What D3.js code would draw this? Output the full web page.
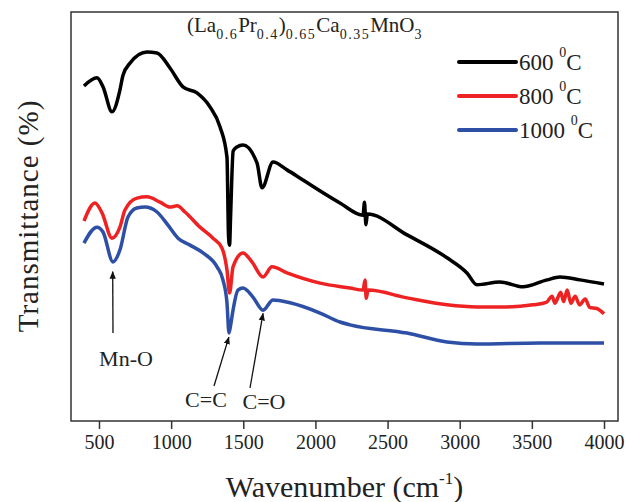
<!DOCTYPE html>
<html>
<head>
<meta charset="utf-8">
<script src="https://cdn.jsdelivr.net/npm/d3@7"></script>
<style>
  body { margin: 0; background: #fff; }
  svg text { font-family: "Liberation Serif", Tinos, "Times New Roman", "DejaVu Serif", serif; fill: #222; }
</style>
</head>
<body>
<svg id="chart" width="627" height="502"></svg>
<script>
// FTIR spectra (transmittance in arbitrary %)
var wn600 = [396, 486, 528, 590, 645, 666, 715, 833, 902, 992, 1082, 1179, 1269, 1339, 1387, 1398, 1405, 1412, 1430, 1456, 1498, 1595, 1630, 1706, 1803, 1914, 2170, 2330, 2340, 2350, 2360, 2635, 2912, 3050, 3120, 3279, 3438, 3605, 3695, 3834, 4000];
var t600 = [81.9, 83.9, 81.7, 75.6, 80.9, 84.5, 87.5, 90.2, 90.0, 86.3, 81.7, 80.2, 76.8, 71.9, 64.5, 45.0, 43.0, 50.0, 66.0, 67.0, 67.5, 63.1, 57.0, 63.3, 61.4, 58.9, 53.3, 50.3, 53.5, 48.0, 50.6, 45.5, 39.9, 36.2, 33.3, 34.0, 32.8, 34.5, 35.2, 34.5, 33.5];

var wn800 = [396, 472, 521, 590, 645, 680, 763, 833, 923, 992, 1041, 1096, 1200, 1290, 1352, 1387, 1405, 1429, 1498, 1560, 1637, 1699, 1803, 2032, 2240, 2330, 2344, 2352, 2365, 2635, 2912, 3120, 3328, 3508, 3600, 3640, 3660, 3700, 3720, 3745, 3770, 3800, 3830, 3870, 3900, 3950, 4000];
var t800 = [48.9, 53.3, 50.9, 44.7, 47.4, 51.6, 54.5, 54.8, 53.5, 52.3, 52.6, 51.1, 47.4, 44.7, 42.3, 36.9, 31.3, 37.7, 41.1, 38.9, 35.2, 37.7, 36.2, 33.7, 32.5, 32.0, 34.5, 30.0, 32.0, 30.1, 28.4, 27.9, 27.9, 28.4, 29.0, 30.5, 28.8, 31.5, 29.2, 32.0, 28.8, 30.5, 28.4, 29.8, 27.8, 27.5, 26.2];

var wn1000 = [396, 486, 528, 597, 645, 701, 763, 819, 902, 978, 1048, 1131, 1221, 1318, 1359, 1387, 1401, 1415, 1429, 1463, 1498, 1567, 1637, 1706, 1824, 2032, 2170, 2240, 2635, 2912, 3120, 3557, 4000];
var t1000 = [43.5, 47.4, 46.2, 38.9, 41.8, 49.9, 52.1, 52.3, 51.1, 47.9, 44.7, 43.0, 41.1, 37.7, 34.5, 28.9, 21.5, 24.0, 27.1, 32.0, 32.5, 30.3, 27.1, 29.6, 28.9, 26.4, 24.2, 23.5, 21.5, 19.3, 18.8, 19.1, 19.1];

var seriesNames = ["600", "800", "1000"];
var seriesColors = ["#000000", "#ee2222", "#2d4fa6"];
var xTicks = [500, 1000, 1500, 2000, 2500, 3000, 3500, 4000];

var serif = "'Liberation Serif', Tinos, 'Times New Roman', 'DejaVu Serif', serif";

var margin = { top: 12, right: 9, bottom: 81, left: 71 },
    width = 627 - margin.left - margin.right,
    height = 502 - margin.top - margin.bottom;

var svg = d3.select("#chart");
var g = svg.append("g").attr("transform", "translate(" + margin.left + "," + margin.top + ")");

var x = d3.scaleLinear().domain([306, 4097]).range([0, width]);
var y = d3.scaleLinear().domain([0, 100]).range([height, 0]);

function pairs(wn, t) {
    return wn.map(function (d, i) { return { wn: d, t: t[i] }; });
}
var series = [pairs(wn600, t600), pairs(wn800, t800), pairs(wn1000, t1000)];

var line = d3.line()
    .x(function (d) { return x(d.wn); })
    .y(function (d) { return y(d.t); })
    .curve(d3.curveMonotoneX);

// spectra (drawn back to front so black sits on top like the original)
[2, 1, 0].forEach(function (i) {
    g.append("path")
        .datum(series[i])
        .attr("fill", "none")
        .attr("stroke", seriesColors[i])
        .attr("stroke-width", 3.5)
        .attr("stroke-linejoin", "round")
        .attr("d", line);
});

// frame
g.append("rect")
    .attr("width", width).attr("height", height)
    .attr("fill", "none").attr("stroke", "#333").attr("stroke-width", 1.5);

// x axis
var xAxis = g.append("g")
    .attr("transform", "translate(0," + height + ")")
    .call(d3.axisBottom(x).tickValues(xTicks).tickSize(8).tickPadding(6).tickFormat(d3.format("d")));
xAxis.attr("font-family", serif);
xAxis.select(".domain").remove();
xAxis.selectAll("line").attr("stroke", "#333").attr("stroke-width", 1.5);
xAxis.selectAll("text").attr("font-size", 20).attr("fill", "#222");

// axis titles
var xt = svg.append("text")
    .attr("x", margin.left + width / 2).attr("y", 497)
    .attr("font-family", serif)
    .attr("text-anchor", "middle").attr("font-size", 30);
xt.append("tspan").text("Wavenumber (cm");
xt.append("tspan").attr("font-size", 17).attr("dy", -13).text("-1");
xt.append("tspan").attr("dy", 13).text(")");

svg.append("text")
    .attr("transform", "translate(38,216)rotate(-90)")
    .attr("font-family", serif)
    .attr("text-anchor", "middle").attr("font-size", 29)
    .attr("letter-spacing", 1)
    .text("Transmittance (%)");

// compound title with subscripts
var title = svg.append("text").attr("x", 187).attr("y", 32)
    .attr("font-family", serif).attr("font-size", 21);
[["(La", null], ["0.6", "s"], ["Pr", null], ["0.4", "s"], [")", null], ["0.65", "s"],
 ["Ca", null], ["0.35", "s"], ["MnO", null], ["3", "s"]].forEach(function (p, i, arr) {
    var prevSub = i > 0 && arr[i - 1][1] === "s";
    var ts = title.append("tspan").text(p[0]);
    if (p[1] === "s") {
        ts.attr("font-size", 14).attr("letter-spacing", 1.5).attr("dy", prevSub ? 0 : 7);
    } else if (prevSub) {
        ts.attr("dy", -7);
    }
});

// legend
var legend = svg.append("g").attr("font-family", serif);
seriesNames.forEach(function (name, i) {
    var ly = 62 + i * 34;
    legend.append("line")
        .attr("x1", 459).attr("x2", 516).attr("y1", ly).attr("y2", ly)
        .attr("stroke", seriesColors[i]).attr("stroke-width", 4).attr("stroke-linecap", "round");
    var t = legend.append("text").attr("x", 519).attr("y", ly + 8).attr("font-size", 23);
    t.append("tspan").text(name + " ");
    t.append("tspan").attr("font-size", 14).attr("dy", -13).text("0");
    t.append("tspan").attr("dy", 13).text("C");
});

// band annotations
svg.append("defs").append("marker")
    .attr("id", "arrow").attr("viewBox", "0 0 10 10")
    .attr("refX", 9).attr("refY", 5)
    .attr("markerWidth", 6).attr("markerHeight", 6)
    .attr("orient", "auto")
    .append("path").attr("d", "M0,1 L10,5 L0,9 Z").attr("fill", "#111");

var notes = [
    { label: "Mn-O", wn: 595, t: 36.5, tx: 113, ty: 333, lx: 126, ly: 366 },
    { label: "C=C", wn: 1400, t: 20.5, tx: 214, ty: 386, lx: 206, ly: 407 },
    { label: "C=O", wn: 1637, t: 26.3, tx: 250, ty: 388, lx: 264, ly: 409 }
];
notes.forEach(function (n) {
    svg.append("line")
        .attr("x1", n.tx).attr("y1", n.ty)
        .attr("x2", margin.left + x(n.wn)).attr("y2", margin.top + y(n.t))
        .attr("stroke", "#111").attr("stroke-width", 1.3)
        .attr("marker-end", "url(#arrow)");
    svg.append("text")
        .attr("x", n.lx).attr("y", n.ly)
        .attr("font-family", serif)
        .attr("text-anchor", "middle").attr("font-size", 22)
        .text(n.label);
});
</script>
</body>
</html>
